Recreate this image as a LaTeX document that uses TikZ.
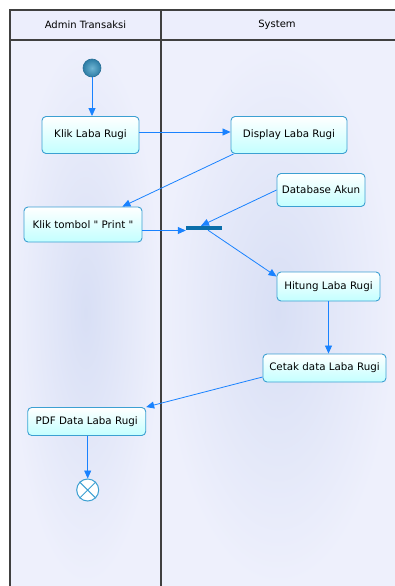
\documentclass[tikz,border=0pt]{standalone}
\usepackage{fontspec}
\setmainfont{DejaVu Sans}
\usetikzlibrary{arrows.meta}
\definecolor{lineblue}{RGB}{25,130,255}
\definecolor{nodeborder}{RGB}{60,160,210}
\definecolor{nodefill}{RGB}{195,255,255}
\definecolor{lanein}{RGB}{216,223,245}
\definecolor{laneout}{RGB}{238,240,252}
\definecolor{headfill}{RGB}{236,238,252}
\definecolor{framecol}{RGB}{64,64,64}
\definecolor{startlight}{RGB}{110,180,210}
\definecolor{startdark}{RGB}{45,125,165}
\definecolor{startborder}{RGB}{40,110,150}
\definecolor{forkcol}{RGB}{10,110,170}
\begin{document}
\begin{tikzpicture}[x=1pt,y=-1pt,
  font=\fontsize{10.3}{12}\selectfont,
  act/.style={draw=nodeborder, line width=0.9pt, rounded corners=4pt,
    top color=white, bottom color=nodefill, inner sep=0pt, align=center},
  flow/.style={draw=lineblue, line width=0.8pt, -{Triangle[length=8pt,width=7pt]}},
  startnode/.style={circle, minimum size=18pt, inner sep=0pt,
    inner color=startlight, outer color=startdark, draw=startborder, line width=0.6pt},
  endnode/.style={circle, minimum size=22pt, inner sep=0pt, draw=nodeborder,
    fill=white, line width=1pt},
  forkbar/.style={rectangle, minimum width=36pt, minimum height=4pt, inner sep=0pt,
    fill=forkcol},
  framel/.style={draw=framecol, line width=1.2pt},
  headtext/.style={font=\fontsize{10}{12}\selectfont}]
\useasboundingbox (0,0) rectangle (395,586);
% lanes
\path[inner color=lanein, outer color=laneout] (10,40) rectangle (161,586);
\path[inner color=lanein, outer color=laneout] (161,40) rectangle (395,586);
\fill[headfill] (10,10) rectangle (395,40);
\draw[framel] (10,586) -- (10,10) -- (395,10);
\draw[framel] (10,40) -- (395,40);
\draw[framel] (161,10) -- (161,586);
\node[headtext] (h1) at (85.5,25) {Admin Transaksi};
\node[headtext] (h2) at (277,25) {System};
% nodes
\node[startnode] (start) at (92,68) {};
\node[act, minimum width=97pt, minimum height=37pt] (kl) at (90.5,135) {Klik Laba Rugi};
\node[act, minimum width=116pt, minimum height=37pt] (disp) at (289,135) {Display Laba Rugi};
\node[act, minimum width=88pt, minimum height=33pt] (db) at (321,190) {Database Akun};
\node[act, minimum width=118pt, minimum height=35pt] (kt) at (83,224.5) {Klik tombol \textquotedbl{} Print \textquotedbl};
\node[forkbar] (fork) at (204,228) {};
\node[act, minimum width=103pt, minimum height=29pt] (hit) at (328.5,286.5) {Hitung Laba Rugi};
\node[act, minimum width=123pt, minimum height=28pt] (cet) at (324.5,368) {Cetak data Laba Rugi};
\node[act, minimum width=118pt, minimum height=28pt] (pdf) at (86.7,421.5) {PDF Data Laba Rugi};
\node[endnode] (end) at (87.7,490) {};
\draw[nodeborder, line width=1pt] (end.45) -- (end.225) (end.135) -- (end.315);
% flows
\draw[flow] (start.south) -- (start.south |- kl.north);
\draw[flow] ([yshift=3pt]kl.east) -- ([yshift=3pt]disp.west);
\draw[flow] ([xshift=3pt]disp.south west) -- ([xshift=-20pt]kt.north east);
\draw[flow] ([yshift=-6pt]kt.east) -- ([yshift=-6pt]kt.east -| fork.west);
\draw[flow] (db.west) -- ([xshift=-3pt]fork.north);
\draw[flow] ([xshift=4pt]fork.south) -- ([yshift=-5pt]hit.north west);
\draw[flow] (hit.south) -- (hit.south |- cet.north);
\draw[flow] ([yshift=-9pt]cet.west) -- (pdf.north east);
\draw[flow] (pdf.south -| end.north) -- (end.north);
\end{tikzpicture}
\end{document}
